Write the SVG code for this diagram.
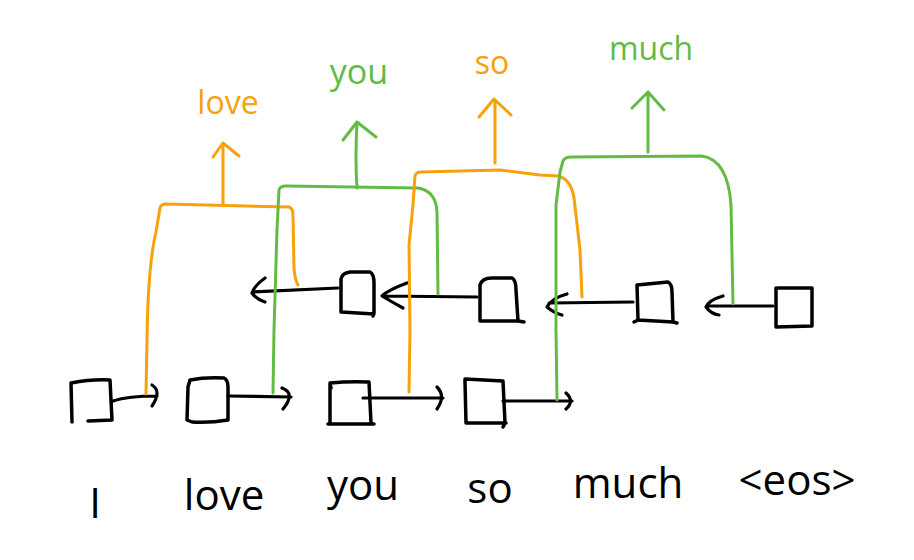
<svg xmlns="http://www.w3.org/2000/svg" width="914" height="560" viewBox="0 0 914 560">
<style>
  .box{fill:none;stroke:#000;stroke-width:3.5;stroke-linecap:round;stroke-linejoin:round}
  .blk{fill:none;stroke:#000;stroke-width:3.2;stroke-linecap:round;stroke-linejoin:round}
  .org{fill:none;stroke:#F7A10C;stroke-width:3;stroke-linecap:round;stroke-linejoin:round}
  .grn{fill:none;stroke:#62BB45;stroke-width:3;stroke-linecap:round;stroke-linejoin:round}
  .word{font-family:"Open Sans","Liberation Sans",sans-serif;font-size:42px;fill:#000;text-anchor:middle}
  .lbl{font-family:"Open Sans","Liberation Sans",sans-serif;text-anchor:middle}
  .lo{fill:#F7A10C}
  .lg{fill:#62BB45}
</style>
<rect width="914" height="560" fill="#fff"/>

<g id="connectors">
  <!-- forward arrows -->
  <path class="blk" d="M113,401 Q128,396 157,396 M152,385 Q162,391 152,406"/>
  <path class="blk" d="M228,396 L291,397 M282,388 Q296,393 283,409"/>
  <path class="blk" d="M363,398 L443,398 M437,387 Q446,396 437,409"/>
  <path class="blk" d="M503,401 L572,401 M566,393 Q575,401 566,409"/>
  <!-- backward arrows -->
  <path class="blk" d="M338,288 L253,292 M265,278 Q254,286 252,293 Q256,299 265,302"/>
  <path class="blk" d="M477,297 L384,296 M407,283 Q388,290 382,296 Q392,302 403,308"/>
  <path class="blk" d="M633,302 L549,303 M567,294 Q552,298 547,307 Q554,313 562,315"/>
  <path class="blk" d="M773,306 L708,306 M723,296 Q709,300 706,307 Q711,314 719,315"/>
  <!-- orange bracket 1 -> love -->
  <path class="org" d="M146,394 L147,340 Q148,265 156,232 L160,208 Q161,204 166,204 L289,207 Q293,208 293,216 L294,268 Q295,280 298,285"/>
  <path class="org" d="M223,204 L223,144 M213,157 L223,143 L239,156"/>
  <!-- green bracket 1 -> you -->
  <path class="grn" d="M273,393 L274,330 L277,230 L279,190 Q280,186 286,186 L418,188 Q436,191 437,212 L438,294"/>
  <path class="grn" d="M357,188 Q355,160 357,122 M343,140 L357,122 L376,137"/>
  <!-- orange bracket 2 -> so -->
  <path class="org" d="M409,392 L410,330 L409,245 L413,205 L415,176 Q416,172 421,172 L500,170 L540,175 L558,176 Q571,179 574,198 L580,250 L582,297"/>
  <path class="org" d="M495,163 L495,100 M479,117 L494,99 L511,115"/>
  <!-- green bracket 2 -> much -->
  <path class="grn" d="M557,400 L556,330 L556,205 L560,172 L563,161 Q565,157 571,157 L702,156 Q728,160 731,205 L733,304"/>
  <path class="grn" d="M648,152 L648,92 M632,108 L648,92 L664,110"/>
</g>

<g id="enc1"><path class="box" d="M72,422 L71,383 Q92,379 110,380 L112,420 L88,421"/></g>
<g id="enc2"><path class="box" d="M190,380 Q205,377 224,378 Q228,380 228,387 L228,420 Q210,423 192,422 L187,420 L188,387 Z"/></g>
<g id="enc3"><path class="box" d="M331,388 L330,383 Q350,381 369,382 L371,423 M328,424 L374,424 M330,384 L330,423"/></g>
<g id="enc4"><path class="box" d="M465,383 L465,379 Q485,380 503,381 L505,423 L503,427 M465,382 L466,423 L506,423"/></g>

<g id="dec1"><path class="box" d="M341,279 Q342,273 350,272 L370,272 Q374,274 374,283 L374,313 L373,316 M341,279 L341,312 L374,314"/></g>
<g id="dec2"><path class="box" d="M480,285 Q482,278 492,278 L512,278 Q516,280 516,290 L518,321 L524,322 M480,285 L480,321 L518,321"/></g>
<g id="dec3"><path class="box" d="M637,285 L668,282 Q672,284 672,292 L673,322 L677,323 M637,285 L638,320 L634,322 M638,320 L673,322"/></g>
<g id="dec4"><path class="box" d="M776,288 L776,327 L812,326 L812,288 L778,288"/></g>

<g id="words">
  <text class="word" x="95" y="518" font-size="50">I</text>
  <text class="word" x="224" y="510" font-size="44">love</text>
  <text class="word" x="363" y="500">you</text>
  <text class="word" x="490" y="503">so</text>
  <text class="word" x="628" y="498">much</text>
  <text class="word" x="797" y="495">&lt;eos&gt;</text>
</g>

<g id="outputs">
  <text class="lbl lo" x="228" y="114" font-size="32">love</text>
  <text class="lbl lg" x="359" y="84" font-size="34">you</text>
  <text class="lbl lo" x="492" y="74" font-size="32">so</text>
  <text class="lbl lg" x="651" y="60" font-size="32">much</text>
</g>
</svg>
